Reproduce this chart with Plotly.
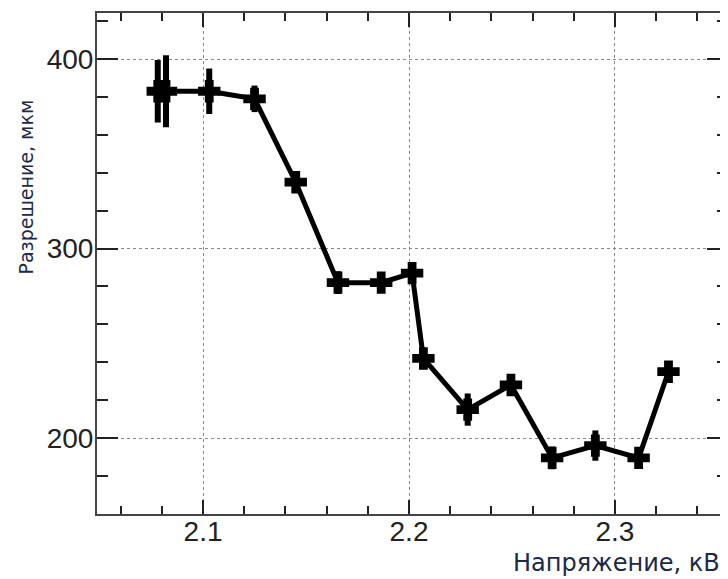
import plotly.graph_objects as go

voltage = [2.078, 2.082, 2.103, 2.125, 2.145, 2.1655, 2.1865, 2.2015, 2.207, 2.2285, 2.2495, 2.2695, 2.2905, 2.3115, 2.326]
resolution = [383, 383, 383, 379, 335, 282, 282, 287, 242, 215, 228, 189.5, 196, 189.5, 235]
errors = [16.5, 19, 12, 7, 5, 6, 5, 5, 4, 8.5, 3, 6, 8, 5, 4]

x_tickvals = [2.1, 2.2, 2.3]
x_ticktext = ["2.1", "2.2", "2.3"]
y_tickvals = [200, 300, 400]
y_ticktext = ["200", "300", "400"]

x_title = "Напряжение, кВ"
y_title = "Разрешение, мкм"

fig = go.Figure()
fig.add_trace(go.Scatter(
    x=voltage, y=resolution, mode="lines+markers",
    line=dict(color="black", width=5),
    marker=dict(symbol="cross", size=17, color="black", line=dict(color="black", width=2)),
    error_y=dict(type="data", array=errors, visible=True, color="black", thickness=6, width=0),
    showlegend=False,
))

axis_common = dict(
    showline=True, linecolor="#444", linewidth=2, mirror="allticks",
    ticks="inside", tickcolor="#222", tickwidth=2,
    showgrid=True, gridcolor="#888", griddash="dot", gridwidth=1,
    zeroline=False,
    tickfont=dict(family="Liberation Sans, Arial", size=28, color="#222"),
)

fig.update_layout(
    width=720, height=571,
    margin=dict(l=89, r=0, t=5, b=65),
    paper_bgcolor="white", plot_bgcolor="white",
    xaxis=dict(range=[2.0485, 2.3549], tickvals=x_tickvals, ticktext=x_ticktext,
               ticklen=14, automargin=False, ticklabelstandoff=-9,
               minor=dict(dtick=0.02, tick0=2.0, ticklen=8, ticks="inside", tickcolor="#222", tickwidth=2, showgrid=False),
               **axis_common),
    yaxis=dict(range=[159.9, 424.3], tickvals=y_tickvals, ticktext=y_ticktext,
               ticklen=21, automargin=False, ticklabelstandoff=-4,
               minor=dict(dtick=20, tick0=0, ticklen=11, ticks="inside", tickcolor="#222", tickwidth=2, showgrid=False),
               **axis_common),
    annotations=[
        dict(text=x_title, xref="paper", yref="paper", x=1.0, y=0, xanchor="right", yanchor="middle",
             xshift=-6, yshift=-49, showarrow=False,
             font=dict(family="DejaVu Sans", size=24, color="#1a2a48")),
        dict(text=y_title, xref="paper", yref="paper", x=0, y=0.5, xanchor="center", yanchor="middle",
             xshift=-72, yshift=76, textangle=-90, showarrow=False,
             font=dict(family="DejaVu Sans", size=19, color="#1a2a48")),
    ],
)

fig.write_html("out.html")
